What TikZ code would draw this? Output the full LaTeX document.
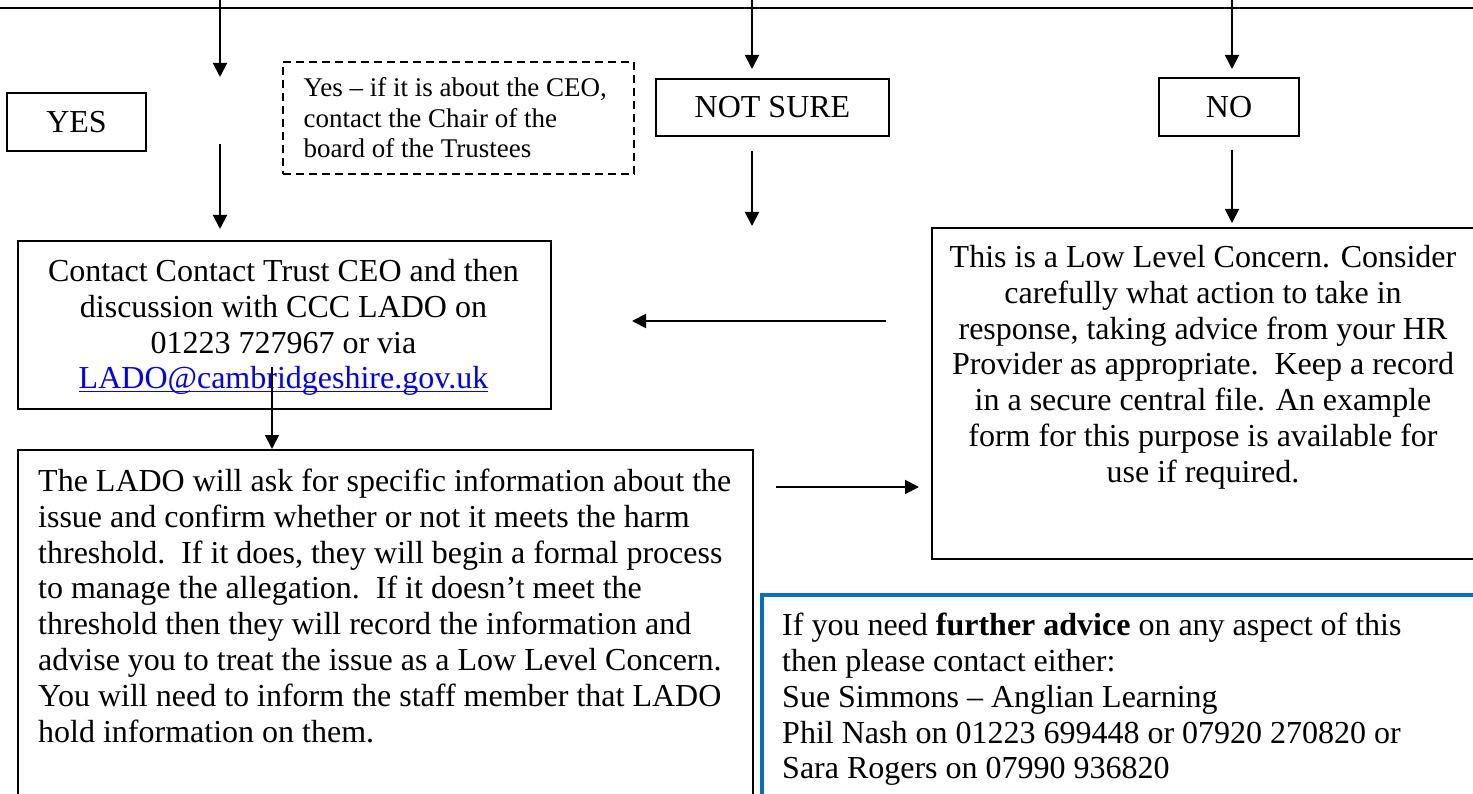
\documentclass[tikz,border=0pt]{standalone}
\usepackage{fontspec}
\setmainfont{Liberation Serif}
\usetikzlibrary{arrows.meta}
\definecolor{linkblue}{RGB}{0,0,255}
\definecolor{advblue}{RGB}{0,112,192}
\newcommand\myul[1]{\setbox0\hbox{#1}\rlap{\rule[-3.5pt]{\wd0}{1.6pt}}\box0}
\begin{document}
\begin{tikzpicture}[x=1pt,y=-1pt,
  box/.style={draw=black,line width=1.9pt,inner sep=0pt},
  dashbox/.style={draw=black,line width=1.6pt,dash pattern=on 8pt off 5pt,inner sep=0pt},
  advbox/.style={draw=advblue,line width=3.5pt,inner sep=0pt},
  conn/.style={line width=1.9pt,-{Triangle[length=14pt,width=14pt]}},
  plain/.style={line width=1.9pt},
  bigtxt/.style={font=\fontsize{32}{35.8}\selectfont,inner sep=0pt},
  smalltxt/.style={font=\fontsize{27}{30.5}\selectfont,inner sep=0pt},
]
\useasboundingbox (0,0) rectangle (1473,794);
\clip (0,0) rectangle (1473,794);

% boxes
\node[box,bigtxt,minimum width=139pt,minimum height=58pt] (yes) at (76.5,122) {YES};
\node[dashbox,minimum width=351pt,minimum height=112pt,anchor=north west] (ceo) at (282,61) {};
\node[smalltxt,align=left,anchor=north west] (ceotxt) at (303.5,77.6)
  {Yes -- if it is about the CEO,\\contact the Chair of the\\board of the Trustees};
\node[box,bigtxt,minimum width=233pt,minimum height=57pt] (notsure) at (772.5,107.5) {NOT SURE};
\node[box,bigtxt,minimum width=140pt,minimum height=58pt] (no) at (1229,107) {NO};

\node[box,minimum width=533pt,minimum height=168pt,anchor=north west] (contact) at (17,240) {};
\node[bigtxt,align=center,anchor=north] (contacttxt) at (283.5,259.1)
  {Contact Contact Trust CEO and then\\discussion with CCC LADO on\\01223 727967 or via\\
   \textcolor{linkblue}{\myul{LADO@cambridgeshire.gov.uk}}};

\node[box,minimum width=560pt,minimum height=331pt,anchor=north west] (low) at (931,227) {};
\node[bigtxt,align=center,anchor=north] (lowtxt) at (1203,245.1)
  {This is a Low Level Concern. Consider\\carefully what action to take in\\
   response, taking advice from your HR\\Provider as appropriate.\ \ Keep a record\\
   in a secure central file. An example\\form for this purpose is available for\\use if required.};

\node[box,minimum width=735pt,minimum height=380pt,anchor=north west] (lado) at (17,449) {};
\node[bigtxt,align=left,anchor=north west] (ladotxt) at (38,468.8)
  {The LADO will ask for specific information about the\\
   issue and confirm whether or not it meets the harm\\
   threshold.\ \ If it does, they will begin a formal process\\
   to manage the allegation.\ \ If it doesn’t meet the\\
   threshold then they will record the information and\\
   advise you to treat the issue as a Low Level Concern.\\
   You will need to inform the staff member that LADO\\
   hold information on them.};

\node[advbox,minimum width=740pt,minimum height=260pt,anchor=north west] (adv) at (760,593) {};
\node[bigtxt,align=left,anchor=north west] (advtxt) at (782,613)
  {If you need \textbf{further advice} on any aspect of this\\
   then please contact either:\\
   Sue Simmons -- Anglian Learning\\
   Phil Nash on 01223 699448 or 07920 270820 or\\
   Sara Rogers on 07990 936820};

% connector end points
\coordinate (tl) at (0,8);
\coordinate (tr) at (1473,8);
\coordinate (a1s) at (220,0);   \coordinate (a1e) at (220,77);
\coordinate (a2s) at (220,144); \coordinate (a2e) at (220,229);
\coordinate (a3s) at (752,0);   \coordinate (a3e) at (752,69);
\coordinate (a4s) at (752,151); \coordinate (a4e) at (752,226);
\coordinate (a5s) at (1232,0);  \coordinate (a5e) at (1232,69);
\coordinate (a6s) at (1232,150);\coordinate (a6e) at (1232,223);
\coordinate (l1s) at (886,321); \coordinate (l1e) at (632,321);
\coordinate (d1s) at (272,367); \coordinate (d1e) at (272,449);
\coordinate (r1s) at (776,487); \coordinate (r1e) at (919,487);

% connectors
\draw[plain] (tl) -- (tr);
\draw[conn] (a1s) -- (a1e);
\draw[conn] (a2s) -- (a2e);
\draw[conn] (a3s) -- (a3e);
\draw[conn] (a4s) -- (a4e);
\draw[conn] (a5s) -- (a5e);
\draw[conn] (a6s) -- (a6e);
\draw[conn] (l1s) -- (l1e);
\draw[conn] (d1s) -- (d1e);
\draw[conn] (r1s) -- (r1e);
\end{tikzpicture}
\end{document}
